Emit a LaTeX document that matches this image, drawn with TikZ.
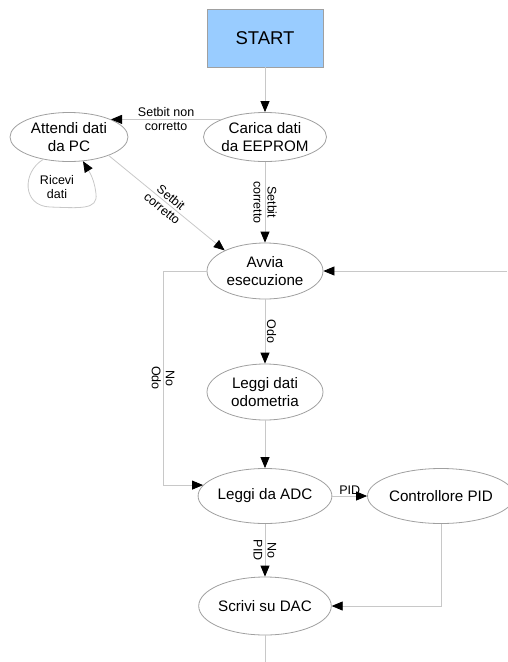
\documentclass[tikz,border=0pt]{standalone}
\usepackage{fontspec}
\setmainfont{Liberation Sans}
\usetikzlibrary{shapes.geometric,arrows.meta}
\definecolor{startblue}{HTML}{99CCFF}
\definecolor{bordergray}{HTML}{A0A0A0}
\definecolor{linegray}{HTML}{C8C8C8}
\begin{document}
\begin{tikzpicture}[x=1pt,y=-1pt,
  state/.style={ellipse, draw=bordergray, line width=0.8pt, fill=white, minimum width=116pt, minimum height=56pt, inner sep=0pt, align=center, font=\fontsize{15.2}{17.5}\selectfont},
  conn/.style={draw=linegray, line width=0.8pt},
  arr/.style={conn, -{Triangle[length=11pt,width=9pt,color=black]}},
  lbl/.style={font=\fontsize{12.5}{14}\selectfont, align=center, inner sep=1.5pt}]
\useasboundingbox (0,0) rectangle (507,662);
\node[draw=bordergray, line width=0.8pt, fill=startblue, minimum width=116pt, minimum height=58pt, font=\fontsize{18.5}{20}\selectfont] (start) at (265,38) {START};
\node[state, minimum height=49pt] (carica) at (265,137) {Carica dati\\da EEPROM};
\node[state, minimum height=49pt, minimum width=118pt] (attendi) at (69,137) {Attendi dati\\da PC};
\node[state] (avvia) at (265,271) {Avvia\\esecuzione};
\node[state] (odo) at (265,392) {Leggi dati\\odometria};
\node[state, minimum height=55pt] (adc) at (265,496) {Leggi da ADC};
\node[state, minimum height=55pt, minimum width=122pt] (pid) at (441,496) {Controllore PID};
\node[state, minimum height=58pt] (dac) at (265,606) {Scrivi su DAC};

\draw[arr] (start) -- (carica);
\draw[arr] (carica.north west) -- node[lbl]{Setbit non\\corretto} (carica.north west -| attendi.north east);
\draw[arr] (carica) -- node[lbl, rotate=-90]{Setbit\\corretto} (avvia);
\draw[arr] (attendi.-25) -- node[lbl, sloped]{Setbit\\corretto} (avvia.153);
\draw[arr] (attendi.221) .. controls (22,172) and (22,206) .. (50,207) .. controls (80,208) and (98,210) .. (96,194) .. controls (95,184) and (92,176) .. (attendi.300);
\node[lbl] (ricevi) at (57,187) {Ricevi\\dati};

\coordinate (rin) at (507,271);
\draw[arr] (rin) -- (avvia.east);
\coordinate (nl) at (163,271);
\draw[conn] (avvia.west) -- (nl);
\draw[arr] (nl) |- node[lbl, pos=0.25, rotate=-90]{No\\Odo} (adc.170);
\draw[arr] (avvia) -- node[lbl, rotate=-90, anchor=south]{Odo} (odo);
\draw[arr] (odo) -- (adc);
\draw[arr] (adc) -- node[lbl, above]{PID} (pid);
\draw[arr] (adc) -- node[lbl, rotate=-90]{No\\PID} (dac);
\draw[arr] (pid.south) |- (dac.east);
\coordinate (bout) at (265,662);
\draw[conn] (dac) -- (bout);
\end{tikzpicture}
\end{document}
